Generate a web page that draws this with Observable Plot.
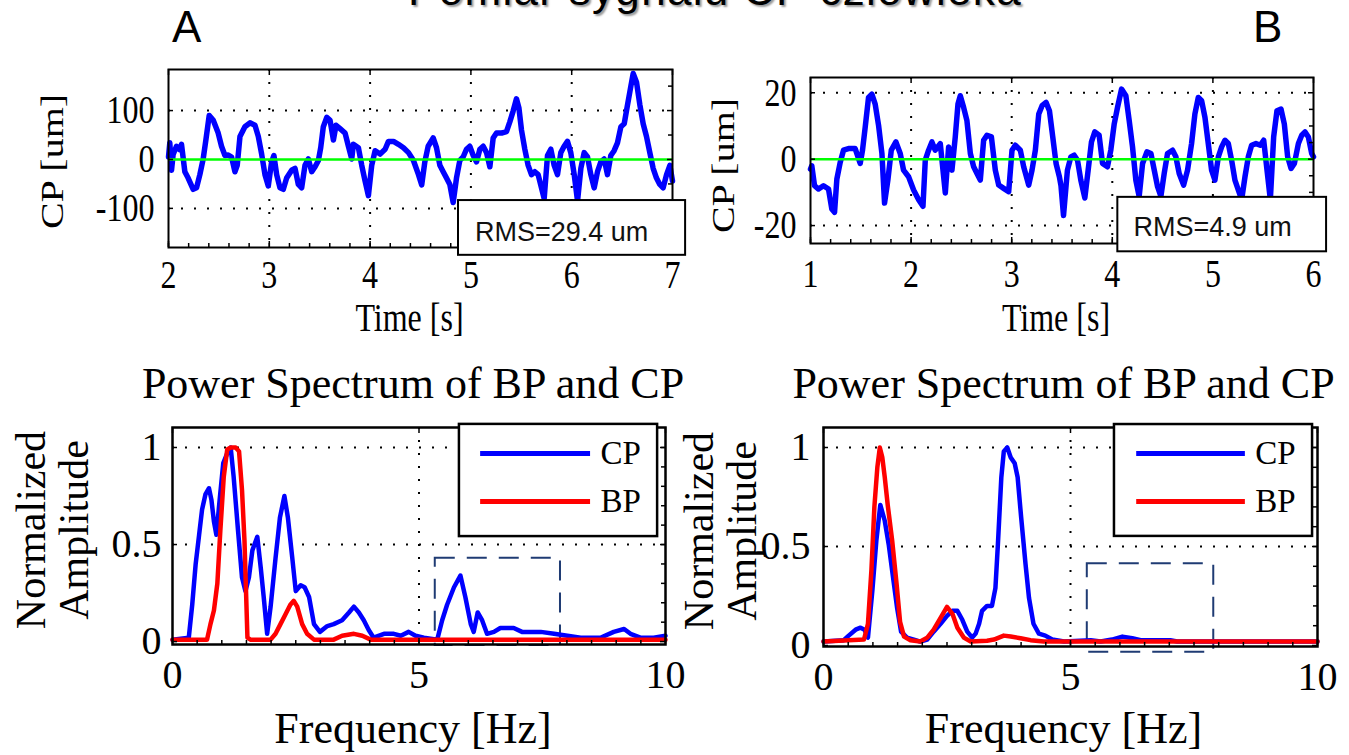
<!DOCTYPE html>
<html><head><meta charset="utf-8">
<script src="https://cdn.jsdelivr.net/npm/d3@7"></script>
<script src="https://cdn.jsdelivr.net/npm/@observablehq/plot@0.6"></script>
<style>
body{margin:0;background:#fff;}
#root{position:relative;width:1349px;height:755px;overflow:hidden;background:#fff;}
.hdr{position:absolute;font-family:'Liberation Sans',Arial,sans-serif;color:#000;line-height:normal;white-space:nowrap;}
</style></head><body><div id="root"></div>
<script>
const SERIF = "Liberation Serif, Times New Roman, serif";
const SANS = "Liberation Sans, Arial, sans-serif";

// ---- texts ----
const pageTitle = "Pomiar sygnału CP człowieka";
const panelLetters = ["A", "B"];
const rmsLabels = ["RMS=29.4 um", "RMS=4.9 um"];
const specTitle = "Power Spectrum of BP and CP";
const seriesNames = ["CP", "BP"];

// ---- ticks ----
const ticksTimeA = [2, 3, 4, 5, 6, 7];
const ticksTimeB = [1, 2, 3, 4, 5, 6];
const ticksCpA = [-100, 0, 100];
const ticksCpB = [-20, 0, 20];
const ticksFreq = [0, 5, 10];
const ticksAmp = [0, 0.5, 1];
const tickLabelsAmp = ["0", "0.5", "1"];

// ---- CP time series, panel A: [time s, CP um] ----
const cpTimeA = [[2.000,5],[2.013,34],[2.030,-22],[2.046,10],[2.079,27],[2.110,20],[2.129,31],[2.162,-25],[2.195,-38],[2.245,-61],[2.278,-58],[2.311,-31],[2.344,1],[2.371,40],[2.404,90],[2.444,80],[2.493,54],[2.526,27],[2.560,8],[2.593,9],[2.626,5],[2.659,-25],[2.682,-12],[2.709,47],[2.758,67],[2.808,75],[2.858,70],[2.891,47],[2.924,11],[2.957,-31],[2.990,-54],[3.023,-5],[3.046,8],[3.073,-31],[3.106,-58],[3.139,-61],[3.172,-38],[3.222,-22],[3.255,-18],[3.288,-51],[3.321,-58],[3.354,-12],[3.387,1],[3.421,-25],[3.454,-15],[3.487,-2],[3.510,24],[3.536,67],[3.570,86],[3.603,80],[3.636,40],[3.662,70],[3.702,63],[3.752,54],[3.785,27],[3.818,1],[3.834,31],[3.884,24],[3.917,-12],[3.950,-44],[3.983,-74],[4.016,-12],[4.050,18],[4.099,11],[4.149,21],[4.182,37],[4.232,37],[4.281,31],[4.331,24],[4.381,14],[4.430,-2],[4.480,-31],[4.512,-52],[4.543,-5],[4.576,27],[4.626,44],[4.659,24],[4.692,-12],[4.725,-25],[4.758,-38],[4.791,-51],[4.824,-88],[4.857,-38],[4.890,-2],[4.923,5],[4.956,21],[4.989,27],[5.023,8],[5.056,-5],[5.089,21],[5.122,27],[5.155,14],[5.188,-15],[5.221,44],[5.254,54],[5.304,54],[5.353,57],[5.386,77],[5.419,99],[5.452,124],[5.476,106],[5.502,60],[5.535,21],[5.568,-12],[5.601,-31],[5.634,-25],[5.667,-31],[5.700,-58],[5.727,-80],[5.760,8],[5.793,21],[5.826,-12],[5.859,-31],[5.892,14],[5.925,27],[5.958,37],[5.991,14],[6.025,-31],[6.058,-85],[6.091,-18],[6.124,14],[6.157,5],[6.190,-31],[6.223,-58],[6.256,-25],[6.289,-5],[6.322,1],[6.355,-31],[6.388,8],[6.421,18],[6.454,34],[6.488,67],[6.521,73],[6.554,112],[6.587,150],[6.610,176],[6.643,158],[6.676,112],[6.709,73],[6.742,47],[6.775,14],[6.808,-18],[6.841,-38],[6.874,-51],[6.907,-58],[6.941,-31],[6.974,-12],[7.000,-44]];

// ---- CP time series, panel B ----
const cpTimeB = [[1.000,-3],[1.013,-2],[1.040,-8],[1.080,-9],[1.129,-8],[1.179,-9],[1.212,-15],[1.239,-16],[1.262,-6],[1.295,-1],[1.328,2.7],[1.378,3.2],[1.444,3.2],[1.494,-1.3],[1.517,2.7],[1.544,9.7],[1.577,18.6],[1.610,19.6],[1.643,16.6],[1.677,10.1],[1.710,1.7],[1.736,-13.2],[1.769,-6.3],[1.803,2.7],[1.849,5.2],[1.892,1.7],[1.925,-3.3],[1.975,-5.3],[2.025,-9.3],[2.075,-12.2],[2.118,-14.2],[2.141,-0.3],[2.174,2.7],[2.207,5.2],[2.240,2.7],[2.290,4.7],[2.340,-10.2],[2.373,3.7],[2.406,-3.3],[2.439,6.7],[2.466,16.6],[2.489,19.1],[2.522,15.6],[2.555,11.6],[2.589,1.7],[2.622,-2.3],[2.655,-4.3],[2.688,-6.3],[2.721,5.7],[2.754,7.2],[2.798,6.7],[2.837,-3.3],[2.871,-7.8],[2.920,-8.8],[2.970,-9.8],[3.003,2.7],[3.036,4.2],[3.086,2.7],[3.119,-2.3],[3.169,-7.8],[3.202,-3.3],[3.235,2.7],[3.269,13.6],[3.302,16.1],[3.342,17.1],[3.375,14.6],[3.408,6.7],[3.441,-1.3],[3.474,-5.3],[3.490,-8],[3.515,-17],[3.554,-3.3],[3.588,0.7],[3.621,1.2],[3.654,-0.3],[3.687,-6.3],[3.727,-11.7],[3.760,-3.3],[3.793,5.2],[3.826,8.2],[3.869,7.2],[3.903,-1.3],[3.952,-2.3],[3.985,2.7],[4.019,10.6],[4.052,15.6],[4.092,21.1],[4.135,19.1],[4.168,11.6],[4.201,3.7],[4.234,-6.3],[4.267,-11.2],[4.301,-1.3],[4.344,2.2],[4.384,1.7],[4.417,-3.3],[4.450,-8.3],[4.483,-11.2],[4.516,-4.3],[4.549,1.7],[4.599,2.7],[4.632,0.7],[4.665,-4.3],[4.709,-7.8],[4.748,-3.3],[4.788,4.7],[4.821,13.6],[4.855,18.6],[4.888,17.6],[4.921,12.6],[4.954,4.7],[4.987,-3.3],[5.020,-6.3],[5.054,0.7],[5.087,3.7],[5.120,5.7],[5.153,4.7],[5.186,-0.3],[5.219,-6.3],[5.253,-9.3],[5.286,-12.2],[5.319,-5.3],[5.352,0.7],[5.385,4.2],[5.428,4.7],[5.471,4.2],[5.505,5.7],[5.538,-3.3],[5.571,-12.2],[5.604,6.7],[5.637,14.6],[5.677,15.1],[5.710,10.6],[5.743,0.7],[5.777,-2.8],[5.810,-1.3],[5.850,4.7],[5.883,7.2],[5.916,8.2],[5.949,6.7],[5.982,1.7],[6.000,0.7]];

// ---- power spectra: [frequency Hz, normalized amplitude] ----
const specCpA = [[0,0.01],[0.33,0.02],[0.40,0.19],[0.47,0.40],[0.54,0.55],[0.60,0.68],[0.67,0.76],[0.74,0.79],[0.79,0.73],[0.84,0.62],[0.89,0.55],[0.96,0.74],[1.03,0.92],[1.11,0.97],[1.18,1.00],[1.24,0.85],[1.33,0.57],[1.41,0.33],[1.48,0.26],[1.55,0.33],[1.62,0.47],[1.72,0.54],[1.79,0.38],[1.85,0.23],[1.92,0.04],[1.99,0.18],[2.09,0.43],[2.18,0.64],[2.27,0.75],[2.34,0.64],[2.43,0.43],[2.50,0.26],[2.60,0.29],[2.68,0.28],[2.77,0.23],[2.87,0.09],[2.99,0.05],[3.14,0.08],[3.27,0.09],[3.44,0.11],[3.58,0.15],[3.68,0.18],[3.78,0.15],[3.88,0.11],[3.98,0.06],[4.08,0.02],[4.29,0.04],[4.49,0.04],[4.63,0.03],[4.79,0.05],[4.93,0.03],[5.10,0.02],[5.37,0.01],[5.47,0.11],[5.57,0.19],[5.71,0.28],[5.84,0.34],[5.94,0.23],[6.05,0.09],[6.11,0.05],[6.19,0.15],[6.28,0.11],[6.38,0.04],[6.52,0.05],[6.65,0.07],[6.92,0.07],[7.09,0.05],[7.26,0.05],[7.47,0.05],[7.74,0.04],[8.01,0.03],[8.28,0.02],[8.68,0.02],[8.95,0.05],[9.16,0.065],[9.29,0.04],[9.49,0.02],[9.76,0.02],[10,0.03]];
const specBpA = [[0,0.01],[0.70,0.01],[0.77,0.09],[0.84,0.16],[0.91,0.30],[0.97,0.57],[1.04,0.85],[1.11,0.99],[1.18,1.0],[1.28,1.0],[1.35,0.98],[1.41,0.78],[1.46,0.52],[1.52,0.02],[1.58,0.01],[1.99,0.01],[2.09,0.04],[2.19,0.09],[2.29,0.14],[2.39,0.19],[2.46,0.21],[2.53,0.18],[2.63,0.09],[2.73,0.04],[2.87,0.01],[3.27,0.01],[3.44,0.03],[3.68,0.04],[3.85,0.03],[4.02,0.01],[10,0.01]];
const specCpB = [[0,0.02],[0.41,0.027],[0.51,0.05],[0.65,0.08],[0.75,0.09],[0.83,0.08],[0.90,0.04],[0.99,0.28],[1.07,0.53],[1.15,0.71],[1.24,0.63],[1.32,0.51],[1.41,0.34],[1.49,0.19],[1.57,0.07],[1.69,0.04],[1.83,0.03],[1.96,0.02],[2.10,0.03],[2.23,0.07],[2.37,0.11],[2.50,0.15],[2.61,0.175],[2.71,0.175],[2.81,0.13],[2.91,0.07],[3.01,0.04],[3.08,0.06],[3.15,0.11],[3.21,0.175],[3.31,0.20],[3.41,0.20],[3.48,0.29],[3.53,0.51],[3.60,0.85],[3.65,0.98],[3.72,1.0],[3.79,0.95],[3.87,0.92],[3.93,0.85],[4.00,0.65],[4.09,0.41],[4.16,0.24],[4.25,0.11],[4.36,0.06],[4.49,0.05],[4.63,0.03],[4.87,0.02],[5.41,0.027],[5.61,0.02],[5.84,0.03],[6.05,0.045],[6.25,0.037],[6.42,0.027],[6.69,0.027],[7.02,0.027],[7.16,0.02],[10,0.02]];
const specBpB = [[0,0.02],[0.82,0.03],[0.90,0.11],[0.97,0.38],[1.03,0.70],[1.09,0.90],[1.14,1.0],[1.19,0.95],[1.24,0.85],[1.30,0.71],[1.39,0.53],[1.48,0.31],[1.55,0.12],[1.63,0.045],[1.76,0.027],[1.96,0.02],[2.10,0.04],[2.23,0.08],[2.37,0.14],[2.50,0.195],[2.61,0.16],[2.71,0.09],[2.84,0.04],[2.98,0.02],[3.31,0.024],[3.45,0.03],[3.65,0.05],[3.79,0.045],[3.99,0.037],[4.19,0.027],[4.46,0.02],[10,0.02]];

// ---- layout / annotation geometry (data units of each panel) ----
const layout = {
  tA: {left: 0, top: 40, width: 700, height: 320, ml: 168, mr: 28, mt: 29, mb: 113,
       xDomain: [2, 7], yDomain: [-180, 184], yMinor: [-150, -50, 50, 150], xMinorStep: 0.2,
       rmsBox: {x1: 4.877, x2: 7.13, y1: -84, y2: -196}, rmsAt: {x: 5.04, y: -149},
       tickDy: 28, tickDx: -14, labelDy: 71, labelDx: -11, yLabelDx: -116, yLabelDy: 3},
  tB: {left: 690, top: 40, width: 659, height: 320, ml: 120, mr: 36, mt: 37, mb: 117,
       xDomain: [1, 6], yDomain: [-25.4, 24.6], yMinor: [-25, -15, -10, -5, 5, 10, 15], xMinorStep: 0.2,
       rmsBox: {x1: 4.055, x2: 6.13, y1: -11.5, y2: -27.9}, rmsAt: {x: 4.21, y: -20.6},
       tickDy: 31, tickDx: -14, labelDy: 75, labelDx: -6, yLabelDx: -87, yLabelDy: 5},
  sA: {left: 0, top: 340, width: 690, height: 415, ml: 172, mr: 25, mt: 87, mb: 111,
       yDomain: [-0.015, 1.103],
       dash: {x1: 5.33, x2: 7.87, y1: -0.02, y2: 0.43},
       legend: {x1: 5.82, x2: 9.84, y1: 1.119, y2: 0.541, lx1: 6.25, lx2: 8.48, tx: 8.68, yCp: 0.969, yBp: 0.722},
       tickDx: -11, titleDx: -6, labelDx: -6, labelDy: 84, yLabelDx: -120},
  sB: {left: 630, top: 340, width: 719, height: 415, ml: 193, mr: 32, mt: 87, mb: 109,
       yDomain: [-0.005, 1.101],
       dash: {x1: 5.34, x2: 7.90, y1: -0.034, y2: 0.413},
       legend: {x1: 5.89, x2: 9.90, y1: 1.116, y2: 0.551, lx1: 6.34, lx2: 8.54, tx: 8.74, yCp: 0.970, yBp: 0.727},
       tickDx: -13, titleDx: -7, labelDx: -7, labelDy: 82, yLabelDx: -103}
};

const BLUE = "#0000ff", RED = "#ff0000", GREEN = "#00ff00", NAVY = "#1f3b73";
const dotted = {stroke: "black", strokeWidth: 2, strokeDasharray: "2,11"};

function stretchText(svg, k) {
  svg.querySelectorAll("text").forEach(el => {
    const holder = el.closest("[font-family]");
    const ff = holder ? holder.getAttribute("font-family") : "";
    if (!ff || !ff.includes("Serif")) return;
    const t = el.getAttribute("transform") || "";
    const m = t.match(/^\s*translate\(([^)]*)\)(.*)$/);
    if (m) el.setAttribute("transform", `translate(${m[1]}) scale(1,${k})${m[2]}`);
    else {
      const x = +el.getAttribute("x") || 0, y = +el.getAttribute("y") || 0;
      el.setAttribute("transform", `translate(${x},${y}) scale(1,${k}) translate(${-x},${-y}) ${t}`);
    }
  });
}

function timePanel(L, series, xTicks, yTicks, rmsLabel) {
  const W = L.width - L.ml - L.mr, H = L.height - L.mt - L.mb;
  const innerX = xTicks.filter(d => d > L.xDomain[0] && d < L.xDomain[1]);
  const xMinor = d3.range(L.xDomain[0], L.xDomain[1] + 1e-9, L.xMinorStep);
  const fs = 32;
  return Plot.plot({
    width: L.width, height: L.height,
    marginLeft: L.ml, marginRight: L.mr, marginTop: L.mt, marginBottom: L.mb,
    x: {domain: L.xDomain, axis: null}, y: {domain: L.yDomain, axis: null},
    style: {background: "transparent"},
    marks: [
      Plot.ruleX(innerX, dotted),
      Plot.ruleY(yTicks.filter(d => d !== 0), dotted),
      Plot.line(series, {x: d => d[0], y: d => d[1], stroke: BLUE, strokeWidth: 5.5, strokeLinejoin: "round"}),
      Plot.ruleY([0], {stroke: GREEN, strokeWidth: 2.5}),
      Plot.tickX(xTicks, {x: d => d, insetTop: H - 6, stroke: "black", strokeWidth: 1.5}),
      Plot.tickX(xTicks, {x: d => d, insetBottom: H - 6, stroke: "black", strokeWidth: 1.5}),
      Plot.tickX(xMinor, {x: d => d, insetTop: H - 4, stroke: "black", strokeWidth: 1.5}),
      Plot.tickY(yTicks, {y: d => d, insetRight: W - 5, stroke: "black", strokeWidth: 1.5}),
      Plot.tickY(yTicks, {y: d => d, insetLeft: W - 5, stroke: "black", strokeWidth: 1.5}),
      Plot.tickY(L.yMinor, {y: d => d, insetLeft: W - 4, stroke: "black", strokeWidth: 1.5}),
      Plot.frame({stroke: "black", strokeWidth: 2}),
      Plot.rect([L.rmsBox], {x1: "x1", x2: "x2", y1: "y1", y2: "y2", fill: "white", stroke: "black", strokeWidth: 2}),
      Plot.text([{x: L.rmsAt.x, y: L.rmsAt.y, s: rmsLabel}], {x: "x", y: "y", text: "s", textAnchor: "start", lineAnchor: "middle", fontFamily: SANS, fontSize: 27, fill: "#111"}),
      Plot.text(xTicks, {x: d => d, frameAnchor: "bottom", dy: L.tickDy, text: d => String(d), lineAnchor: "middle", textAnchor: "middle", fontFamily: SERIF, fontSize: fs}),
      Plot.text(yTicks, {y: d => d, frameAnchor: "left", dx: L.tickDx, text: d => String(d), lineAnchor: "middle", textAnchor: "end", fontFamily: SERIF, fontSize: fs}),
      Plot.text(["Time [s]"], {frameAnchor: "bottom", dy: L.labelDy, dx: L.labelDx, lineAnchor: "middle", fontFamily: SERIF, fontSize: fs}),
      Plot.text(["CP [um]"], {frameAnchor: "left", dx: L.yLabelDx, dy: L.yLabelDy, rotate: -90, lineAnchor: "middle", textAnchor: "middle", fontFamily: SERIF, fontSize: fs})
    ]
  });
}

function specPanel(L, cp, bp) {
  const W = L.width - L.ml - L.mr, H = L.height - L.mt - L.mb;
  const xMinor = d3.range(0.5, 10, 0.5);
  const yMinor = d3.range(0.1, 1.05, 0.1);
  const g = L.legend;
  return Plot.plot({
    width: L.width, height: L.height,
    marginLeft: L.ml, marginRight: L.mr, marginTop: L.mt, marginBottom: L.mb,
    x: {domain: [0, 10], axis: null}, y: {domain: L.yDomain, axis: null},
    style: {background: "transparent"},
    marks: [
      Plot.ruleX([5], dotted),
      Plot.ruleY([0.5, 1], dotted),
      Plot.rect([L.dash], {x1: "x1", x2: "x2", y1: "y1", y2: "y2", fill: "none", stroke: NAVY, strokeWidth: 2, strokeDasharray: "20,12"}),
      Plot.line(cp, {x: d => d[0], y: d => d[1], stroke: BLUE, strokeWidth: 4.5, strokeLinejoin: "round"}),
      Plot.line(bp, {x: d => d[0], y: d => d[1], stroke: RED, strokeWidth: 4.5, strokeLinejoin: "round"}),
      Plot.tickX(ticksFreq, {x: d => d, insetTop: H - 6, stroke: "black", strokeWidth: 1.5}),
      Plot.tickX(ticksFreq, {x: d => d, insetBottom: H - 6, stroke: "black", strokeWidth: 1.5}),
      Plot.tickX(xMinor, {x: d => d, insetTop: H - 4, stroke: "black", strokeWidth: 1.5}),
      Plot.tickY(ticksAmp, {y: d => d, insetRight: W - 5, stroke: "black", strokeWidth: 1.5}),
      Plot.tickY(ticksAmp, {y: d => d, insetLeft: W - 5, stroke: "black", strokeWidth: 1.5}),
      Plot.tickY(yMinor, {y: d => d, insetLeft: W - 4, stroke: "black", strokeWidth: 1.5}),
      Plot.frame({stroke: "black", strokeWidth: 2.5}),
      Plot.rect([g], {x1: "x1", x2: "x2", y1: "y1", y2: "y2", fill: "white", stroke: "black", strokeWidth: 2.5}),
      Plot.ruleY([{y: g.yCp, a: g.lx1, b: g.lx2}], {y: "y", x1: "a", x2: "b", stroke: BLUE, strokeWidth: 5}),
      Plot.ruleY([{y: g.yBp, a: g.lx1, b: g.lx2}], {y: "y", x1: "a", x2: "b", stroke: RED, strokeWidth: 5}),
      Plot.text([{x: g.tx, y: g.yCp, s: seriesNames[0]}, {x: g.tx, y: g.yBp, s: seriesNames[1]}], {x: "x", y: "y", text: "s", textAnchor: "start", lineAnchor: "middle", fontFamily: SERIF, fontSize: 33}),
      Plot.text(ticksFreq, {x: d => d, frameAnchor: "bottom", dy: 31, text: d => String(d), lineAnchor: "middle", textAnchor: "middle", fontFamily: SERIF, fontSize: 40}),
      Plot.text(ticksAmp, {y: d => d, frameAnchor: "left", dx: L.tickDx, text: (d, i) => tickLabelsAmp[i], lineAnchor: "middle", textAnchor: "end", fontFamily: SERIF, fontSize: 40}),
      Plot.text(["Frequency [Hz]"], {frameAnchor: "bottom", dy: L.labelDy, dx: L.labelDx, lineAnchor: "middle", fontFamily: SERIF, fontSize: 44}),
      Plot.text([specTitle], {frameAnchor: "top", dy: -44, dx: L.titleDx, lineAnchor: "middle", fontFamily: SERIF, fontSize: 44}),
      Plot.text(["Normalized\nAmplitude"], {frameAnchor: "left", dx: L.yLabelDx, dy: -6, rotate: -90, lineAnchor: "middle", textAnchor: "middle", lineHeight: 1.02, fontFamily: SERIF, fontSize: 42})
    ]
  });
}

const root = document.getElementById("root");
function place(svg, L) {
  svg.style.position = "absolute";
  svg.style.left = L.left + "px";
  svg.style.top = L.top + "px";
  svg.style.maxWidth = "none";
  root.appendChild(svg);
}

const pTA = timePanel(layout.tA, cpTimeA, ticksTimeA, ticksCpA, rmsLabels[0]);
stretchText(pTA, 1.25);
const pTB = timePanel(layout.tB, cpTimeB, ticksTimeB, ticksCpB, rmsLabels[1]);
stretchText(pTB, 1.25);
const pSA = specPanel(layout.sA, specCpA, specBpA);
const pSB = specPanel(layout.sB, specCpB, specBpB);
place(pSA, layout.sA);
place(pSB, layout.sB);
place(pTA, layout.tA);
place(pTB, layout.tB);

// header texts
function hdr(text, css) {
  const d = document.createElement("div");
  d.className = "hdr";
  d.textContent = text;
  Object.assign(d.style, css);
  root.appendChild(d);
}
hdr(pageTitle, {left: "215px", width: "1000px", textAlign: "center", top: "-35px", fontSize: "44px", letterSpacing: "1.3px", textShadow: "2px 2px 2px #999"});
hdr(panelLetters[0], {left: "172px", top: "2px", fontSize: "44px"});
hdr(panelLetters[1], {left: "1253px", top: "2px", fontSize: "44px"});
</script></body></html>
